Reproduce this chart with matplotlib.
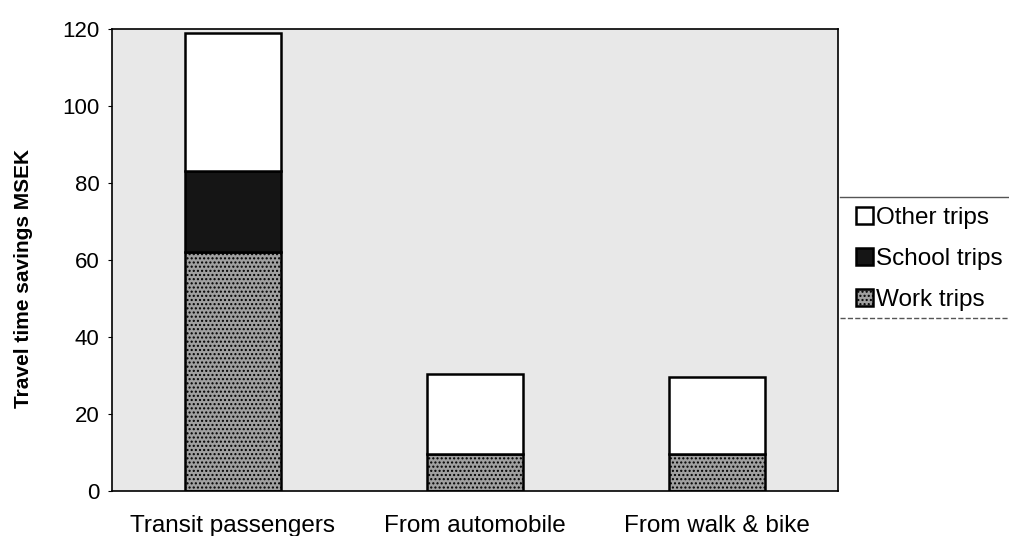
import numpy as np
import matplotlib.pyplot as plt
from matplotlib.lines import Line2D

categories = ["Transit passengers", "From automobile", "From walk & bike"]
work_trips = [62, 9.5, 9.5]
school_trips = [21, 0, 0]
other_trips = [36, 21, 20]

plt.rcParams['font.family'] = ['Liberation Sans', 'DejaVu Sans']
plt.rcParams['hatch.color'] = '#555555'

fig = plt.figure(figsize=(10.09, 5.36), dpi=100)
ax = fig.add_axes([112/1009, 1 - 491/536, (838-112)/1009, (491-29)/536])
ax.set_facecolor('#e8e8e8')

x = np.arange(len(categories))
w = 0.4
work = np.array(work_trips)
school = np.array(school_trips)
other = np.array(other_trips)

b1 = ax.bar(x, work, w, color='#a0a0a0', edgecolor='black', linewidth=1.8,
            hatch='....', label='Work trips')
b2 = ax.bar(x, school, w, bottom=work, color='#151515', edgecolor='black',
            linewidth=1.8, label='School trips')
b3 = ax.bar(x, other, w, bottom=work + school, color='white', edgecolor='black',
            linewidth=1.8, label='Other trips')
# hide the zero-height school segments
for i, r in enumerate(b2):
    if school[i] == 0:
        r.set_visible(False)

ax.set_xlim(-0.5, 2.5)
ax.set_ylim(0, 120)
ax.set_yticks(range(0, 121, 20))
ax.tick_params(axis='y', labelsize=16, length=3, width=0.8, pad=6)
ax.tick_params(axis='x', labelsize=17.5, length=0, pad=17)
ax.set_xticks(x)
ax.set_xticklabels(categories)
ax.set_ylabel('Travel time savings MSEK', fontsize=15, fontweight='bold')
ax.yaxis.set_label_coords(-0.109, 0.459)
for s in ax.spines.values():
    s.set_linewidth(1.2)

leg = fig.legend(handles=[b3, b2, b1], labels=['Other trips', 'School trips', 'Work trips'],
                 loc='upper left', bbox_to_anchor=(846/1009, 1 - 197/536),
                 frameon=False, fontsize=17.5, handlelength=0.7, handleheight=0.7,
                 handletextpad=0.12, labelspacing=0.78, borderaxespad=0)
fig.add_artist(Line2D([840/1009, 1.0], [1 - 197/536] * 2, color='#555555', lw=1))
fig.add_artist(Line2D([840/1009, 1.0], [1 - 318/536] * 2, color='#555555', lw=1, ls='--'))

fig.savefig('out.png', dpi=100)
